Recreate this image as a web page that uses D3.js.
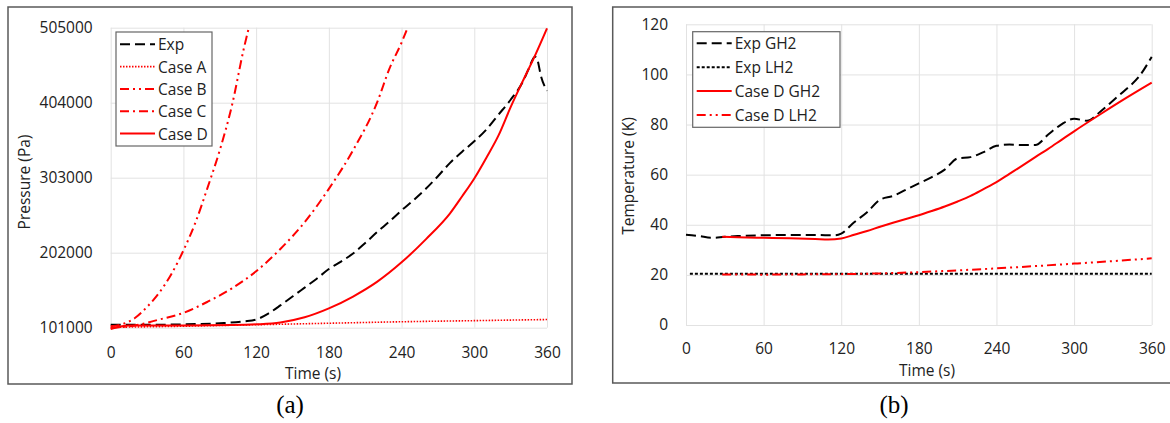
<!DOCTYPE html>
<html>
<head>
<meta charset="utf-8">
<script src="https://cdn.jsdelivr.net/npm/d3@7"></script>
<style>
  body { margin: 0; background: #fff; }
  text { font-family: "Open Sans", sans-serif; fill: #222; }
  .caption { font-family: "Liberation Serif", "DejaVu Serif", serif; font-size: 25px; fill: #000; }
</style>
</head>
<body>
<div id="vis"></div>
<script>
const width = 1170;
const height = 423;

// ---- panel (a): pressure ----
const pTicksX = [0, 60, 120, 180, 240, 300, 360];
const pTicksY = [101000, 202000, 303000, 404000, 505000];

const expP = [[0,105000],[30,105000],[60,105500],[90,107000],[110,109500],[120,112000],[130,120000],[140,131000],[150,143000],[160,155000],[170,167000],[180,180000],[190,190000],[200,201000],[210,215000],[220,230000],[230,244000],[240,259000],[250,273000],[260,288000],[270,305000],[280,323000],[290,338000],[300,352000],[310,368000],[320,388000],[330,408000],[340,432000],[345,450000],[350,466000],[352,462000],[355,440000],[360,420000]];
const caseA = [[0,101500],[60,103000],[120,105000],[180,107000],[240,109000],[300,110500],[360,112000]];
const caseB = [[0,103000],[10,106000],[20,114000],[30,129000],[40,148000],[50,173000],[60,205000],[70,243000],[80,290000],[90,340000],[100,400000],[110,478000],[114,505000]];
const caseC = [[0,101000],[20,104000],[40,112000],[60,121000],[80,136000],[100,154000],[120,177000],[140,207000],[160,243000],[180,288000],[200,340000],[220,405000],[230,450000],[240,485000],[245,505000]];
const caseD = [[0,99000],[5,101500],[15,104000],[60,104000],[100,104500],[120,105500],[140,108000],[160,115000],[180,127000],[200,143000],[220,163000],[240,189000],[260,220000],[280,255000],[290,278000],[300,302000],[310,330000],[320,360000],[330,398000],[340,433000],[350,467000],[360,504000]];

// ---- panel (b): temperature ----
const tTicksX = [0, 60, 120, 180, 240, 300, 360];
const tTicksY = [0, 20, 40, 60, 80, 100, 120];

const expGH2 = [[0,36],[10,35.5],[20,34.8],[30,35.2],[40,35.5],[60,35.8],[80,35.9],[100,35.9],[115,35.8],[120,36.5],[130,41],[140,45],[150,50],[160,51.5],[170,54],[180,56.5],[190,59],[200,62],[210,66.5],[220,67],[230,69],[240,71.5],[250,72],[260,71.8],[270,71.8],[280,76],[290,80],[300,82.3],[310,81.5],[320,85],[330,89.5],[340,94],[350,99],[360,107]];
const expLH2 = [[3,20.5],[60,20.5],[120,20.5],[180,20.5],[240,20.5],[300,20.5],[360,20.5]];
const dGH2 = [[28,35.2],[40,35],[60,34.8],[80,34.6],[100,34.3],[110,34.1],[120,34.5],[130,36],[140,37.5],[150,39.2],[160,40.8],[170,42.3],[180,43.8],[190,45.5],[200,47.3],[210,49.3],[220,51.5],[230,54.2],[240,57],[250,60.3],[260,63.6],[270,67],[280,70.3],[290,73.8],[300,77.3],[320,84],[340,90.5],[360,96.7]];
const dLH2 = [[28,20.2],[60,20.1],[90,20.2],[120,20.3],[150,20.6],[180,21.1],[210,21.8],[240,22.6],[270,23.5],[300,24.5],[330,25.5],[360,26.6]];

const svg = d3.select("#vis").append("svg")
  .attr("width", width)
  .attr("height", height);

// line styles
const styles = {
  exp:   { stroke: "#000", w: 2, dash: "10,5" },
  a:     { stroke: "#ff0000", w: 1.6, dash: "1.5,1.5" },
  b:     { stroke: "#ff0000", w: 2, dash: "9,4,2,4,2,4" },
  c:     { stroke: "#ff0000", w: 2, dash: "9,4,2,4" },
  d:     { stroke: "#ff0000", w: 2, dash: null },
  lh2:   { stroke: "#000", w: 2, dash: "3,2" }
};

function drawPanel(cfg) {
  const g = svg.append("g");

  g.append("rect")
    .attr("x", cfg.box[0]).attr("y", cfg.box[1])
    .attr("width", cfg.box[2]).attr("height", cfg.box[3])
    .attr("fill", "#fff").attr("stroke", "#595959").attr("stroke-width", 1.5);

  const x = d3.scaleLinear().domain([0, 360]).range(cfg.xr);
  const y = d3.scaleLinear().domain(cfg.yd).range(cfg.yr);

  // grid
  g.append("g")
    .attr("transform", "translate(0," + cfg.yr[0] + ")")
    .call(d3.axisBottom(x).tickValues(cfg.xticks).tickSize(-(cfg.yr[0] - cfg.yr[1])).tickFormat(""))
    .call(a => a.select(".domain").remove())
    .selectAll("line").attr("stroke", "#e2e2e2");
  g.append("g")
    .attr("transform", "translate(" + cfg.xr[0] + ",0)")
    .call(d3.axisLeft(y).tickValues(cfg.yticks).tickSize(-(cfg.xr[1] - cfg.xr[0])).tickFormat(""))
    .call(a => a.select(".domain").remove())
    .selectAll("line").attr("stroke", "#e2e2e2");

  // tick labels
  const xa = g.append("g")
    .attr("transform", "translate(0," + cfg.yr[0] + ")")
    .call(d3.axisBottom(x).tickValues(cfg.xticks).tickSize(0).tickPadding(cfg.xpad));
  const ya = g.append("g")
    .attr("transform", "translate(" + cfg.xr[0] + ",0)")
    .call(d3.axisLeft(y).tickValues(cfg.yticks).tickSize(0).tickPadding(cfg.ypad).tickFormat(d3.format("d")));
  [xa, ya].forEach(a => {
    a.select(".domain").remove();
    a.selectAll("text").style("font-family", "'Open Sans', sans-serif").style("font-size", "15.5px").attr("fill", "#222");
  });

  // axis titles
  g.append("text")
    .attr("x", cfg.xlab[0]).attr("y", cfg.xlab[1])
    .attr("text-anchor", "middle").style("font-size", "15.5px")
    .text("Time (s)");
  g.append("text")
    .attr("transform", "translate(" + cfg.ylab[0] + "," + cfg.ylab[1] + ") rotate(-90)")
    .attr("text-anchor", "middle").style("font-size", "15.5px")
    .text(cfg.ytitle);

  // series
  const line = d3.line()
    .x(d => x(d[0]))
    .y(d => y(d[1]))
    .curve(d3.curveMonotoneX);

  cfg.series.forEach(s => {
    const st = styles[s.style];
    g.append("path")
      .datum(s.data)
      .attr("d", line)
      .attr("fill", "none")
      .attr("stroke", st.stroke)
      .attr("stroke-width", st.w)
      .attr("stroke-dasharray", st.dash);
  });

  // legend
  const L = cfg.legend;
  const lg = g.append("g");
  lg.append("rect")
    .attr("x", L.x).attr("y", L.y).attr("width", L.w).attr("height", L.h)
    .attr("fill", "#fff").attr("stroke", "#666").attr("stroke-width", 1.2);
  cfg.series.forEach((s, i) => {
    const st = styles[s.style];
    const yy = L.y + L.first + i * L.step;
    lg.append("line")
      .attr("x1", L.x + 4).attr("x2", L.x + 39)
      .attr("y1", yy).attr("y2", yy)
      .attr("stroke", st.stroke).attr("stroke-width", st.w)
      .attr("stroke-dasharray", st.dash);
    lg.append("text")
      .attr("x", L.x + 42).attr("y", yy)
      .attr("dominant-baseline", "central")
      .style("font-size", "15.5px")
      .text(s.name);
  });

  svg.append("text")
    .attr("class", "caption")
    .attr("x", cfg.cap[0]).attr("y", cfg.cap[1])
    .attr("text-anchor", "middle")
    .text(cfg.caption);
}

drawPanel({
  box: [8, 7, 564, 377],
  xr: [110.7, 547], yr: [327.7, 27.7], yd: [101000, 505000],
  xticks: pTicksX, yticks: pTicksY,
  xpad: 19, ypad: 18,
  xlab: [313, 378.5], ylab: [30, 182], ytitle: "Pressure (Pa)",
  legend: { x: 116, y: 32, w: 96, h: 114, first: 12.3, step: 22.3 },
  cap: [290, 413], caption: "(a)",
  series: [
    { name: "Exp", style: "exp", data: expP },
    { name: "Case A", style: "a", data: caseA },
    { name: "Case B", style: "b", data: caseB },
    { name: "Case C", style: "c", data: caseC },
    { name: "Case D", style: "d", data: caseD }
  ]
});

drawPanel({
  box: [612.7, 7, 570, 376],
  xr: [686, 1151.7], yr: [325, 24.3], yd: [0, 120],
  xticks: tTicksX, yticks: tTicksY,
  xpad: 17.7, ypad: 18,
  xlab: [927, 376], ylab: [634, 176], ytitle: "Temperature (K)",
  legend: { x: 692.7, y: 31.7, w: 147.3, h: 95.6, first: 11.6, step: 23.9 },
  cap: [894, 413], caption: "(b)",
  series: [
    { name: "Exp GH2", style: "exp", data: expGH2 },
    { name: "Exp LH2", style: "lh2", data: expLH2 },
    { name: "Case D GH2", style: "d", data: dGH2 },
    { name: "Case D LH2", style: "b", data: dLH2 }
  ]
});
</script>
</body>
</html>
